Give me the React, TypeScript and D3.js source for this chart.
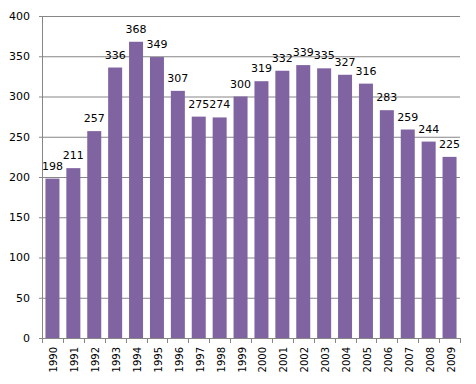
import React from 'react';
import * as d3 from 'd3';

const years = ['1990', '1991', '1992', '1993', '1994', '1995', '1996', '1997', '1998', '1999',
  '2000', '2001', '2002', '2003', '2004', '2005', '2006', '2007', '2008', '2009'];
const values = [198, 211, 257, 336, 368, 349, 307, 275, 274, 300,
  319, 332, 339, 335, 327, 316, 283, 259, 244, 225];
const yTicks = [0, 50, 100, 150, 200, 250, 300, 350, 400];

const width = 476;
const height = 384;
const left = 42;
const right = 460;
const top = 16;
const bottom = 338;
const font = 'DejaVu Sans, Verdana, sans-serif';
const grey = '#868686';

export default function App() {
  const x = d3.scaleBand<string>().domain(years).range([left, right]).paddingInner(0.33).paddingOuter(0.165);
  const y = d3.scaleLinear().domain([0, 400]).range([bottom, top]);
  const band = (right - left) / years.length;

  return (
    <svg width={width} height={height} style={{ position: 'absolute', left: 0, top: 0 }}>
      <rect width={width} height={height} fill="#fff" />
      {yTicks.map(t => (
        <g key={t}>
          <line x1={left - 3} x2={t === 0 ? left : right} y1={y(t) + 0.5} y2={y(t) + 0.5} stroke={grey} />
          <text x={30} y={y(t)} dy="0.35em" textAnchor="end" fontFamily={font} fontSize={11} fill="#000">{t}</text>
        </g>
      ))}
      {years.map((yr, i) => (
        <rect key={yr} x={x(yr)} y={y(values[i])} width={x.bandwidth()} height={bottom - y(values[i])} fill="#8064A2" />
      ))}
      <line x1={left + 0.5} x2={left + 0.5} y1={top} y2={bottom + 5} stroke={grey} />
      <line x1={left} x2={right} y1={bottom + 0.5} y2={bottom + 0.5} stroke={grey} />
      {years.map((yr, i) => (
        <line key={'t' + yr} x1={Math.round(left + band * (i + 1)) + 0.5} x2={Math.round(left + band * (i + 1)) + 0.5}
          y1={bottom} y2={bottom + 5} stroke={grey} />
      ))}
      {years.map((yr, i) => (
        <text key={'v' + yr} x={(x(yr) ?? 0) + x.bandwidth() / 2} y={y(values[i]) - 9}
          textAnchor="middle" fontFamily={font} fontSize={11} fill="#000">{values[i]}</text>
      ))}
      {years.map(yr => {
        const cx = (x(yr) ?? 0) + x.bandwidth() / 2 + 1.5;
        return (
          <text key={'l' + yr} transform={`translate(${cx},347) rotate(-90)`} dy="0.35em"
            textAnchor="end" fontFamily={font} fontSize={10} fill="#000">{yr}</text>
        );
      })}
    </svg>
  );
}
